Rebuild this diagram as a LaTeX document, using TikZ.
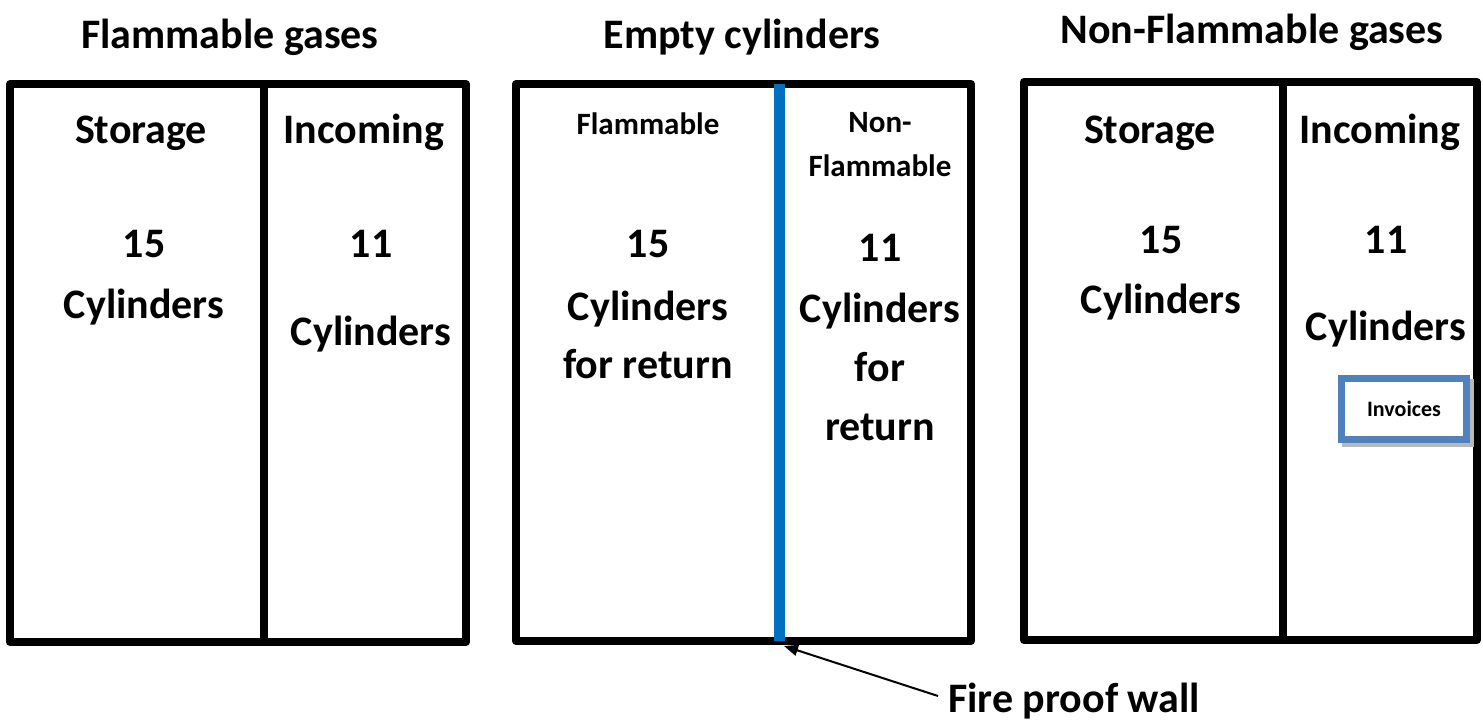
\documentclass[tikz,border=0pt]{standalone}
\usepackage{fontspec}
\setmainfont{Carlito}
\usetikzlibrary{arrows.meta}
\definecolor{wallblue}{RGB}{0,112,192}
\definecolor{invblue}{RGB}{79,129,189}
\begin{document}
\begin{tikzpicture}[x=1pt,y=-1pt,
  room/.style={draw=black,line width=8pt,line join=round},
  divider/.style={draw=black,line width=8pt},
  big/.style={font=\fontsize{42}{50}\selectfont\bfseries,anchor=base,inner sep=0pt},
  small/.style={font=\fontsize{31}{37}\selectfont\bfseries,anchor=base,inner sep=0pt}]
\useasboundingbox (0,0) rectangle (1483,722);
% titles
\node[big] (t1) at (230,49) {Flammable gases};
\node[big] (t2) at (742,49) {Empty cylinders};
\node[big] (t3) at (1252,44) {Non-Flammable gases};
% left room
\draw[room] (10,84) rectangle (466,642);
\draw[divider] (264,84) -- (264,642);
\node[big] (l1) at (141,144) {Storage};
\node[big] (l2) at (144,258) {15};
\node[big] (l3) at (144,318) {Cylinders};
\node[big] (l4) at (364,144) {Incoming};
\node[big] (l5) at (371,258) {11};
\node[big] (l6) at (371,345) {Cylinders};
% middle room
\draw[room] (516,84) rectangle (971,641);
\draw[wallblue,line width=11pt] (779,84) coordinate (wtop) -- (779,641) coordinate (wbot);
\node[small] (m1) at (648,135) {Flammable};
\node[big] (m2) at (648,258) {15};
\node[big] (m3) at (648,320) {Cylinders};
\node[big] (m4) at (648,378) {for return};
\node[small] (m5) at (880,133) {Non-};
\node[small] (m6) at (880,177) {Flammable};
\node[big] (m7) at (880,261) {11};
\node[big] (m8) at (880,322) {Cylinders};
\node[big] (m9) at (880,381) {for};
\node[big] (m10) at (880,440) {return};
% right room
\draw[room] (1024,82) rectangle (1477,640);
\draw[divider] (1283,82) -- (1283,640);
\node[big] (r1) at (1150,144) {Storage};
\node[big] (r2) at (1161,253) {15};
\node[big] (r3) at (1161,313) {Cylinders};
\node[big] (r4) at (1380,144) {Incoming};
\node[big] (r5) at (1386,253) {11};
\node[big] (r6) at (1386,340) {Cylinders};
% invoices
\fill[black!28] (1342,379) rectangle (1474,447);
\node[draw=invblue,fill=white,line width=7pt,minimum width=125pt,minimum height=61pt,inner sep=0pt,
  font=\fontsize{22}{26}\selectfont\bfseries] (inv) at (1404,409) {Invoices};
% fire proof wall
\node[big,anchor=base west] (fw) at (948,712) {Fire proof wall};
\coordinate (fwstart) at (938,696);
\coordinate (fwtip) at (784,646);
\draw[line width=2pt,-{Triangle[length=14pt,width=11pt]}] (fwstart) -- (fwtip);
\end{tikzpicture}
\end{document}
